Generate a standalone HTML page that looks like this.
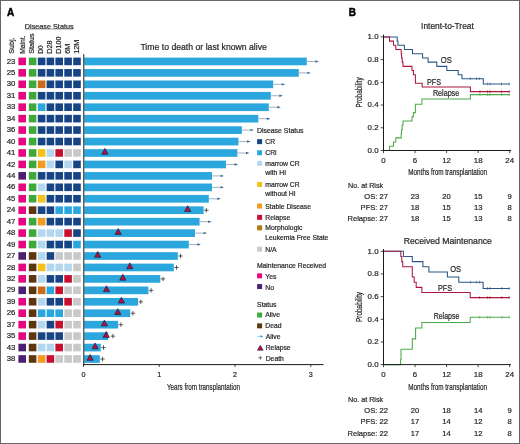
<!DOCTYPE html>
<html><head><meta charset="utf-8"><style>
html,body{margin:0;padding:0;background:#fff;}
#wrap{position:relative;width:520px;height:444px;overflow:hidden;}
svg{position:absolute;left:0;top:0;will-change:transform;}
</style></head><body><div id="wrap">
<svg width="520" height="444" viewBox="0 0 520 444" font-family='"Liberation Sans", sans-serif'>
<rect x="0" y="0" width="520" height="444" fill="#fff"/>
<text x="6.9" y="16.0" font-size="10" text-anchor="start" fill="#000" font-weight="bold" stroke="#000" stroke-width="0.45">A</text>
<text x="24.8" y="28.7" font-size="7.1" text-anchor="start" fill="#231f20" font-weight="normal" textLength="48.8" lengthAdjust="spacingAndGlyphs" stroke="#231f20" stroke-width="0.2">Disease Status</text>
<line x1="25" y1="29.1" x2="74" y2="29.1" stroke="#777" stroke-width="0.6"/>
<text transform="translate(13.5,53.8) rotate(-90)" font-size="7.2" fill="#231f20" stroke="#231f20" stroke-width="0.2">Subj.</text>
<text transform="translate(24.8,53.8) rotate(-90)" font-size="7.2" fill="#231f20" stroke="#231f20" stroke-width="0.2" textLength="18.4" lengthAdjust="spacingAndGlyphs">Maint.</text>
<text transform="translate(34.3,53.8) rotate(-90)" font-size="7.2" fill="#231f20" stroke="#231f20" stroke-width="0.2">Status</text>
<text transform="translate(43.0,53.8) rotate(-90)" font-size="7.2" fill="#231f20" stroke="#231f20" stroke-width="0.2" textLength="8.4" lengthAdjust="spacingAndGlyphs">D0</text>
<text transform="translate(51.6,53.8) rotate(-90)" font-size="7.2" fill="#231f20" stroke="#231f20" stroke-width="0.2">D28</text>
<text transform="translate(61.2,53.8) rotate(-90)" font-size="7.2" fill="#231f20" stroke="#231f20" stroke-width="0.2">D100</text>
<text transform="translate(70.3,53.8) rotate(-90)" font-size="7.2" fill="#231f20" stroke="#231f20" stroke-width="0.2">6M</text>
<text transform="translate(79.3,53.8) rotate(-90)" font-size="7.2" fill="#231f20" stroke="#231f20" stroke-width="0.2">12M</text>
<text x="11.1" y="63.5" font-size="7.8" text-anchor="middle" fill="#231f20" font-weight="normal" stroke="#231f20" stroke-width="0.2">23</text>
<rect x="18.4" y="57.60" width="7.6" height="7.6" fill="#e6067f"/>
<rect x="28.8" y="57.60" width="7.6" height="7.6" fill="#3fa83a"/>
<rect x="37.8" y="57.60" width="7.6" height="7.6" fill="#174484"/>
<rect x="46.6" y="57.60" width="7.6" height="7.6" fill="#174484"/>
<rect x="55.4" y="57.60" width="7.6" height="7.6" fill="#174484"/>
<rect x="64.3" y="57.60" width="7.6" height="7.6" fill="#174484"/>
<rect x="73.2" y="57.60" width="7.6" height="7.6" fill="#174484"/>
<rect x="84.2" y="57.60" width="222.60" height="7.7" fill="#2ca7de"/>
<line x1="307.10" y1="61.45" x2="315.80" y2="61.45" stroke="#5a7a95" stroke-width="0.6"/>
<path d="M318.80,61.45 L315.40,60.25 L315.40,62.65 Z" fill="#36628c"/>
<text x="11.1" y="74.95" font-size="7.8" text-anchor="middle" fill="#231f20" font-weight="normal" stroke="#231f20" stroke-width="0.2">25</text>
<rect x="18.4" y="69.05" width="7.6" height="7.6" fill="#e6067f"/>
<rect x="28.8" y="69.05" width="7.6" height="7.6" fill="#3fa83a"/>
<rect x="37.8" y="69.05" width="7.6" height="7.6" fill="#174484"/>
<rect x="46.6" y="69.05" width="7.6" height="7.6" fill="#174484"/>
<rect x="55.4" y="69.05" width="7.6" height="7.6" fill="#174484"/>
<rect x="64.3" y="69.05" width="7.6" height="7.6" fill="#174484"/>
<rect x="73.2" y="69.05" width="7.6" height="7.6" fill="#174484"/>
<rect x="84.2" y="69.05" width="214.60" height="7.7" fill="#2ca7de"/>
<line x1="299.10" y1="72.89" x2="307.80" y2="72.89" stroke="#5a7a95" stroke-width="0.6"/>
<path d="M310.80,72.89 L307.40,71.69 L307.40,74.09 Z" fill="#36628c"/>
<text x="11.1" y="86.39" font-size="7.8" text-anchor="middle" fill="#231f20" font-weight="normal" stroke="#231f20" stroke-width="0.2">30</text>
<rect x="18.4" y="80.49" width="7.6" height="7.6" fill="#e6067f"/>
<rect x="28.8" y="80.49" width="7.6" height="7.6" fill="#3fa83a"/>
<rect x="37.8" y="80.49" width="7.6" height="7.6" fill="#c96b1a"/>
<rect x="46.6" y="80.49" width="7.6" height="7.6" fill="#174484"/>
<rect x="55.4" y="80.49" width="7.6" height="7.6" fill="#174484"/>
<rect x="64.3" y="80.49" width="7.6" height="7.6" fill="#174484"/>
<rect x="73.2" y="80.49" width="7.6" height="7.6" fill="#174484"/>
<rect x="84.2" y="80.49" width="189.00" height="7.7" fill="#2ca7de"/>
<line x1="273.50" y1="84.34" x2="282.20" y2="84.34" stroke="#5a7a95" stroke-width="0.6"/>
<path d="M285.20,84.34 L281.80,83.14 L281.80,85.54 Z" fill="#36628c"/>
<text x="11.1" y="97.84" font-size="7.8" text-anchor="middle" fill="#231f20" font-weight="normal" stroke="#231f20" stroke-width="0.2">31</text>
<rect x="18.4" y="91.94" width="7.6" height="7.6" fill="#e6067f"/>
<rect x="28.8" y="91.94" width="7.6" height="7.6" fill="#3fa83a"/>
<rect x="37.8" y="91.94" width="7.6" height="7.6" fill="#174484"/>
<rect x="46.6" y="91.94" width="7.6" height="7.6" fill="#174484"/>
<rect x="55.4" y="91.94" width="7.6" height="7.6" fill="#174484"/>
<rect x="64.3" y="91.94" width="7.6" height="7.6" fill="#174484"/>
<rect x="73.2" y="91.94" width="7.6" height="7.6" fill="#174484"/>
<rect x="84.2" y="91.94" width="186.60" height="7.7" fill="#2ca7de"/>
<line x1="271.10" y1="95.78" x2="279.80" y2="95.78" stroke="#5a7a95" stroke-width="0.6"/>
<path d="M282.80,95.78 L279.40,94.58 L279.40,96.98 Z" fill="#36628c"/>
<text x="11.1" y="109.28" font-size="7.8" text-anchor="middle" fill="#231f20" font-weight="normal" stroke="#231f20" stroke-width="0.2">33</text>
<rect x="18.4" y="103.38" width="7.6" height="7.6" fill="#e6067f"/>
<rect x="28.8" y="103.38" width="7.6" height="7.6" fill="#3fa83a"/>
<rect x="37.8" y="103.38" width="7.6" height="7.6" fill="#2aa7df"/>
<rect x="46.6" y="103.38" width="7.6" height="7.6" fill="#174484"/>
<rect x="55.4" y="103.38" width="7.6" height="7.6" fill="#174484"/>
<rect x="64.3" y="103.38" width="7.6" height="7.6" fill="#174484"/>
<rect x="73.2" y="103.38" width="7.6" height="7.6" fill="#174484"/>
<rect x="84.2" y="103.38" width="184.60" height="7.7" fill="#2ca7de"/>
<line x1="269.10" y1="107.23" x2="277.80" y2="107.23" stroke="#5a7a95" stroke-width="0.6"/>
<path d="M280.80,107.23 L277.40,106.03 L277.40,108.43 Z" fill="#36628c"/>
<text x="11.1" y="120.73" font-size="7.8" text-anchor="middle" fill="#231f20" font-weight="normal" stroke="#231f20" stroke-width="0.2">34</text>
<rect x="18.4" y="114.83" width="7.6" height="7.6" fill="#e6067f"/>
<rect x="28.8" y="114.83" width="7.6" height="7.6" fill="#3fa83a"/>
<rect x="37.8" y="114.83" width="7.6" height="7.6" fill="#174484"/>
<rect x="46.6" y="114.83" width="7.6" height="7.6" fill="#174484"/>
<rect x="55.4" y="114.83" width="7.6" height="7.6" fill="#174484"/>
<rect x="64.3" y="114.83" width="7.6" height="7.6" fill="#174484"/>
<rect x="73.2" y="114.83" width="7.6" height="7.6" fill="#174484"/>
<rect x="84.2" y="114.83" width="174.10" height="7.7" fill="#2ca7de"/>
<line x1="258.60" y1="118.67" x2="267.30" y2="118.67" stroke="#5a7a95" stroke-width="0.6"/>
<path d="M270.30,118.67 L266.90,117.47 L266.90,119.88 Z" fill="#36628c"/>
<text x="11.1" y="132.17" font-size="7.8" text-anchor="middle" fill="#231f20" font-weight="normal" stroke="#231f20" stroke-width="0.2">36</text>
<rect x="18.4" y="126.27" width="7.6" height="7.6" fill="#e6067f"/>
<rect x="28.8" y="126.27" width="7.6" height="7.6" fill="#3fa83a"/>
<rect x="37.8" y="126.27" width="7.6" height="7.6" fill="#174484"/>
<rect x="46.6" y="126.27" width="7.6" height="7.6" fill="#174484"/>
<rect x="55.4" y="126.27" width="7.6" height="7.6" fill="#174484"/>
<rect x="64.3" y="126.27" width="7.6" height="7.6" fill="#174484"/>
<rect x="73.2" y="126.27" width="7.6" height="7.6" fill="#174484"/>
<rect x="84.2" y="126.27" width="157.70" height="7.7" fill="#2ca7de"/>
<line x1="242.20" y1="130.12" x2="250.90" y2="130.12" stroke="#5a7a95" stroke-width="0.6"/>
<path d="M253.90,130.12 L250.50,128.92 L250.50,131.32 Z" fill="#36628c"/>
<text x="11.1" y="143.62" font-size="7.8" text-anchor="middle" fill="#231f20" font-weight="normal" stroke="#231f20" stroke-width="0.2">40</text>
<rect x="18.4" y="137.72" width="7.6" height="7.6" fill="#e6067f"/>
<rect x="28.8" y="137.72" width="7.6" height="7.6" fill="#3fa83a"/>
<rect x="37.8" y="137.72" width="7.6" height="7.6" fill="#174484"/>
<rect x="46.6" y="137.72" width="7.6" height="7.6" fill="#174484"/>
<rect x="55.4" y="137.72" width="7.6" height="7.6" fill="#174484"/>
<rect x="64.3" y="137.72" width="7.6" height="7.6" fill="#174484"/>
<rect x="73.2" y="137.72" width="7.6" height="7.6" fill="#174484"/>
<rect x="84.2" y="137.72" width="154.30" height="7.7" fill="#2ca7de"/>
<line x1="238.80" y1="141.56" x2="247.50" y2="141.56" stroke="#5a7a95" stroke-width="0.6"/>
<path d="M250.50,141.56 L247.10,140.37 L247.10,142.76 Z" fill="#36628c"/>
<text x="11.1" y="155.06" font-size="7.8" text-anchor="middle" fill="#231f20" font-weight="normal" stroke="#231f20" stroke-width="0.2">41</text>
<rect x="18.4" y="149.16" width="7.6" height="7.6" fill="#e6067f"/>
<rect x="28.8" y="149.16" width="7.6" height="7.6" fill="#3fa83a"/>
<rect x="37.8" y="149.16" width="7.6" height="7.6" fill="#f4c21a"/>
<rect x="46.6" y="149.16" width="7.6" height="7.6" fill="#b4d7f0"/>
<rect x="55.4" y="149.16" width="7.6" height="7.6" fill="#c8102e"/>
<rect x="64.3" y="149.16" width="7.6" height="7.6" fill="#c9c9c9"/>
<rect x="73.2" y="149.16" width="7.6" height="7.6" fill="#c9c9c9"/>
<rect x="84.2" y="149.16" width="153.20" height="7.7" fill="#2ca7de"/>
<line x1="237.70" y1="153.01" x2="246.40" y2="153.01" stroke="#5a7a95" stroke-width="0.6"/>
<path d="M249.40,153.01 L246.00,151.81 L246.00,154.21 Z" fill="#36628c"/>
<path d="M104.90,148.46 L108.00,154.26 L101.80,154.26 Z" fill="#b51033" stroke="#222657" stroke-width="0.8" stroke-linejoin="miter"/>
<text x="11.1" y="166.5" font-size="7.8" text-anchor="middle" fill="#231f20" font-weight="normal" stroke="#231f20" stroke-width="0.2">42</text>
<rect x="18.4" y="160.60" width="7.6" height="7.6" fill="#e6067f"/>
<rect x="28.8" y="160.60" width="7.6" height="7.6" fill="#3fa83a"/>
<rect x="37.8" y="160.60" width="7.6" height="7.6" fill="#f39b21"/>
<rect x="46.6" y="160.60" width="7.6" height="7.6" fill="#b4d7f0"/>
<rect x="55.4" y="160.60" width="7.6" height="7.6" fill="#174484"/>
<rect x="64.3" y="160.60" width="7.6" height="7.6" fill="#b4d7f0"/>
<rect x="73.2" y="160.60" width="7.6" height="7.6" fill="#174484"/>
<rect x="84.2" y="160.60" width="141.80" height="7.7" fill="#2ca7de"/>
<line x1="226.30" y1="164.45" x2="235.00" y2="164.45" stroke="#5a7a95" stroke-width="0.6"/>
<path d="M238.00,164.45 L234.60,163.25 L234.60,165.65 Z" fill="#36628c"/>
<text x="11.1" y="177.95" font-size="7.8" text-anchor="middle" fill="#231f20" font-weight="normal" stroke="#231f20" stroke-width="0.2">44</text>
<rect x="18.4" y="172.05" width="7.6" height="7.6" fill="#4d1f73"/>
<rect x="28.8" y="172.05" width="7.6" height="7.6" fill="#3fa83a"/>
<rect x="37.8" y="172.05" width="7.6" height="7.6" fill="#174484"/>
<rect x="46.6" y="172.05" width="7.6" height="7.6" fill="#174484"/>
<rect x="55.4" y="172.05" width="7.6" height="7.6" fill="#174484"/>
<rect x="64.3" y="172.05" width="7.6" height="7.6" fill="#174484"/>
<rect x="73.2" y="172.05" width="7.6" height="7.6" fill="#174484"/>
<rect x="84.2" y="172.05" width="127.80" height="7.7" fill="#2ca7de"/>
<line x1="212.30" y1="175.90" x2="221.00" y2="175.90" stroke="#5a7a95" stroke-width="0.6"/>
<path d="M224.00,175.90 L220.60,174.70 L220.60,177.10 Z" fill="#36628c"/>
<text x="11.1" y="189.4" font-size="7.8" text-anchor="middle" fill="#231f20" font-weight="normal" stroke="#231f20" stroke-width="0.2">46</text>
<rect x="18.4" y="183.50" width="7.6" height="7.6" fill="#e6067f"/>
<rect x="28.8" y="183.50" width="7.6" height="7.6" fill="#3fa83a"/>
<rect x="37.8" y="183.50" width="7.6" height="7.6" fill="#b4d7f0"/>
<rect x="46.6" y="183.50" width="7.6" height="7.6" fill="#174484"/>
<rect x="55.4" y="183.50" width="7.6" height="7.6" fill="#174484"/>
<rect x="64.3" y="183.50" width="7.6" height="7.6" fill="#174484"/>
<rect x="73.2" y="183.50" width="7.6" height="7.6" fill="#174484"/>
<rect x="84.2" y="183.50" width="127.80" height="7.7" fill="#2ca7de"/>
<line x1="212.30" y1="187.34" x2="221.00" y2="187.34" stroke="#5a7a95" stroke-width="0.6"/>
<path d="M224.00,187.34 L220.60,186.15 L220.60,188.54 Z" fill="#36628c"/>
<text x="11.1" y="200.84" font-size="7.8" text-anchor="middle" fill="#231f20" font-weight="normal" stroke="#231f20" stroke-width="0.2">45</text>
<rect x="18.4" y="194.94" width="7.6" height="7.6" fill="#e6067f"/>
<rect x="28.8" y="194.94" width="7.6" height="7.6" fill="#3fa83a"/>
<rect x="37.8" y="194.94" width="7.6" height="7.6" fill="#f4c21a"/>
<rect x="46.6" y="194.94" width="7.6" height="7.6" fill="#174484"/>
<rect x="55.4" y="194.94" width="7.6" height="7.6" fill="#174484"/>
<rect x="64.3" y="194.94" width="7.6" height="7.6" fill="#174484"/>
<rect x="73.2" y="194.94" width="7.6" height="7.6" fill="#174484"/>
<rect x="84.2" y="194.94" width="124.60" height="7.7" fill="#2ca7de"/>
<line x1="209.10" y1="198.79" x2="217.80" y2="198.79" stroke="#5a7a95" stroke-width="0.6"/>
<path d="M220.80,198.79 L217.40,197.59 L217.40,199.99 Z" fill="#36628c"/>
<text x="11.1" y="212.28" font-size="7.8" text-anchor="middle" fill="#231f20" font-weight="normal" stroke="#231f20" stroke-width="0.2">24</text>
<rect x="18.4" y="206.38" width="7.6" height="7.6" fill="#e6067f"/>
<rect x="28.8" y="206.38" width="7.6" height="7.6" fill="#5e3511"/>
<rect x="37.8" y="206.38" width="7.6" height="7.6" fill="#174484"/>
<rect x="46.6" y="206.38" width="7.6" height="7.6" fill="#174484"/>
<rect x="55.4" y="206.38" width="7.6" height="7.6" fill="#2aa7df"/>
<rect x="64.3" y="206.38" width="7.6" height="7.6" fill="#2aa7df"/>
<rect x="73.2" y="206.38" width="7.6" height="7.6" fill="#2aa7df"/>
<rect x="84.2" y="206.38" width="119.40" height="7.7" fill="#2ca7de"/>
<path d="M204.10,210.23 H208.50 M206.30,208.03 V212.43" stroke="#333" stroke-width="0.8"/>
<path d="M187.70,205.69 L190.80,211.49 L184.60,211.49 Z" fill="#b51033" stroke="#222657" stroke-width="0.8" stroke-linejoin="miter"/>
<text x="11.1" y="223.73" font-size="7.8" text-anchor="middle" fill="#231f20" font-weight="normal" stroke="#231f20" stroke-width="0.2">47</text>
<rect x="18.4" y="217.83" width="7.6" height="7.6" fill="#e6067f"/>
<rect x="28.8" y="217.83" width="7.6" height="7.6" fill="#3fa83a"/>
<rect x="37.8" y="217.83" width="7.6" height="7.6" fill="#f39b21"/>
<rect x="46.6" y="217.83" width="7.6" height="7.6" fill="#174484"/>
<rect x="55.4" y="217.83" width="7.6" height="7.6" fill="#174484"/>
<rect x="64.3" y="217.83" width="7.6" height="7.6" fill="#174484"/>
<rect x="73.2" y="217.83" width="7.6" height="7.6" fill="#174484"/>
<rect x="84.2" y="217.83" width="115.40" height="7.7" fill="#2ca7de"/>
<line x1="199.90" y1="221.68" x2="208.60" y2="221.68" stroke="#5a7a95" stroke-width="0.6"/>
<path d="M211.60,221.68 L208.20,220.48 L208.20,222.88 Z" fill="#36628c"/>
<text x="11.1" y="235.18" font-size="7.8" text-anchor="middle" fill="#231f20" font-weight="normal" stroke="#231f20" stroke-width="0.2">48</text>
<rect x="18.4" y="229.28" width="7.6" height="7.6" fill="#e6067f"/>
<rect x="28.8" y="229.28" width="7.6" height="7.6" fill="#3fa83a"/>
<rect x="37.8" y="229.28" width="7.6" height="7.6" fill="#b4d7f0"/>
<rect x="46.6" y="229.28" width="7.6" height="7.6" fill="#b4d7f0"/>
<rect x="55.4" y="229.28" width="7.6" height="7.6" fill="#b4d7f0"/>
<rect x="64.3" y="229.28" width="7.6" height="7.6" fill="#c8102e"/>
<rect x="73.2" y="229.28" width="7.6" height="7.6" fill="#174484"/>
<rect x="84.2" y="229.28" width="110.80" height="7.7" fill="#2ca7de"/>
<line x1="195.30" y1="233.12" x2="204.00" y2="233.12" stroke="#5a7a95" stroke-width="0.6"/>
<path d="M207.00,233.12 L203.60,231.93 L203.60,234.32 Z" fill="#36628c"/>
<path d="M118.20,228.58 L121.30,234.38 L115.10,234.38 Z" fill="#b51033" stroke="#222657" stroke-width="0.8" stroke-linejoin="miter"/>
<text x="11.1" y="246.62" font-size="7.8" text-anchor="middle" fill="#231f20" font-weight="normal" stroke="#231f20" stroke-width="0.2">49</text>
<rect x="18.4" y="240.72" width="7.6" height="7.6" fill="#e6067f"/>
<rect x="28.8" y="240.72" width="7.6" height="7.6" fill="#3fa83a"/>
<rect x="37.8" y="240.72" width="7.6" height="7.6" fill="#b4d7f0"/>
<rect x="46.6" y="240.72" width="7.6" height="7.6" fill="#174484"/>
<rect x="55.4" y="240.72" width="7.6" height="7.6" fill="#174484"/>
<rect x="64.3" y="240.72" width="7.6" height="7.6" fill="#174484"/>
<rect x="73.2" y="240.72" width="7.6" height="7.6" fill="#2aa7df"/>
<rect x="84.2" y="240.72" width="104.60" height="7.7" fill="#2ca7de"/>
<line x1="189.10" y1="244.57" x2="197.80" y2="244.57" stroke="#5a7a95" stroke-width="0.6"/>
<path d="M200.80,244.57 L197.40,243.37 L197.40,245.77 Z" fill="#36628c"/>
<text x="11.1" y="258.06" font-size="7.8" text-anchor="middle" fill="#231f20" font-weight="normal" stroke="#231f20" stroke-width="0.2">27</text>
<rect x="18.4" y="252.16" width="7.6" height="7.6" fill="#4d1f73"/>
<rect x="28.8" y="252.16" width="7.6" height="7.6" fill="#5e3511"/>
<rect x="37.8" y="252.16" width="7.6" height="7.6" fill="#b4d7f0"/>
<rect x="46.6" y="252.16" width="7.6" height="7.6" fill="#174484"/>
<rect x="55.4" y="252.16" width="7.6" height="7.6" fill="#c9c9c9"/>
<rect x="64.3" y="252.16" width="7.6" height="7.6" fill="#c9c9c9"/>
<rect x="73.2" y="252.16" width="7.6" height="7.6" fill="#c9c9c9"/>
<rect x="84.2" y="252.16" width="93.60" height="7.7" fill="#2ca7de"/>
<path d="M178.30,256.01 H182.70 M180.50,253.81 V258.21" stroke="#333" stroke-width="0.8"/>
<path d="M97.70,251.47 L100.80,257.26 L94.60,257.26 Z" fill="#b51033" stroke="#222657" stroke-width="0.8" stroke-linejoin="miter"/>
<text x="11.1" y="269.51" font-size="7.8" text-anchor="middle" fill="#231f20" font-weight="normal" stroke="#231f20" stroke-width="0.2">28</text>
<rect x="18.4" y="263.61" width="7.6" height="7.6" fill="#e6067f"/>
<rect x="28.8" y="263.61" width="7.6" height="7.6" fill="#5e3511"/>
<rect x="37.8" y="263.61" width="7.6" height="7.6" fill="#f4c21a"/>
<rect x="46.6" y="263.61" width="7.6" height="7.6" fill="#b4d7f0"/>
<rect x="55.4" y="263.61" width="7.6" height="7.6" fill="#b4d7f0"/>
<rect x="64.3" y="263.61" width="7.6" height="7.6" fill="#b4d7f0"/>
<rect x="73.2" y="263.61" width="7.6" height="7.6" fill="#c9c9c9"/>
<rect x="84.2" y="263.61" width="89.60" height="7.7" fill="#2ca7de"/>
<path d="M174.30,267.46 H178.70 M176.50,265.26 V269.66" stroke="#333" stroke-width="0.8"/>
<path d="M129.80,262.91 L132.90,268.71 L126.70,268.71 Z" fill="#b51033" stroke="#222657" stroke-width="0.8" stroke-linejoin="miter"/>
<text x="11.1" y="280.95" font-size="7.8" text-anchor="middle" fill="#231f20" font-weight="normal" stroke="#231f20" stroke-width="0.2">32</text>
<rect x="18.4" y="275.06" width="7.6" height="7.6" fill="#e6067f"/>
<rect x="28.8" y="275.06" width="7.6" height="7.6" fill="#5e3511"/>
<rect x="37.8" y="275.06" width="7.6" height="7.6" fill="#b4d7f0"/>
<rect x="46.6" y="275.06" width="7.6" height="7.6" fill="#174484"/>
<rect x="55.4" y="275.06" width="7.6" height="7.6" fill="#174484"/>
<rect x="64.3" y="275.06" width="7.6" height="7.6" fill="#c8102e"/>
<rect x="73.2" y="275.06" width="7.6" height="7.6" fill="#c9c9c9"/>
<rect x="84.2" y="275.06" width="76.10" height="7.7" fill="#2ca7de"/>
<path d="M160.80,278.91 H165.20 M163.00,276.71 V281.11" stroke="#333" stroke-width="0.8"/>
<path d="M122.80,274.36 L125.90,280.16 L119.70,280.16 Z" fill="#b51033" stroke="#222657" stroke-width="0.8" stroke-linejoin="miter"/>
<text x="11.1" y="292.4" font-size="7.8" text-anchor="middle" fill="#231f20" font-weight="normal" stroke="#231f20" stroke-width="0.2">29</text>
<rect x="18.4" y="286.50" width="7.6" height="7.6" fill="#4d1f73"/>
<rect x="28.8" y="286.50" width="7.6" height="7.6" fill="#5e3511"/>
<rect x="37.8" y="286.50" width="7.6" height="7.6" fill="#c96b1a"/>
<rect x="46.6" y="286.50" width="7.6" height="7.6" fill="#2aa7df"/>
<rect x="55.4" y="286.50" width="7.6" height="7.6" fill="#c8102e"/>
<rect x="64.3" y="286.50" width="7.6" height="7.6" fill="#c9c9c9"/>
<rect x="73.2" y="286.50" width="7.6" height="7.6" fill="#c9c9c9"/>
<rect x="84.2" y="286.50" width="64.20" height="7.7" fill="#2ca7de"/>
<path d="M148.90,290.35 H153.30 M151.10,288.15 V292.55" stroke="#333" stroke-width="0.8"/>
<path d="M106.50,285.80 L109.60,291.60 L103.40,291.60 Z" fill="#b51033" stroke="#222657" stroke-width="0.8" stroke-linejoin="miter"/>
<text x="11.1" y="303.84" font-size="7.8" text-anchor="middle" fill="#231f20" font-weight="normal" stroke="#231f20" stroke-width="0.2">39</text>
<rect x="18.4" y="297.94" width="7.6" height="7.6" fill="#e6067f"/>
<rect x="28.8" y="297.94" width="7.6" height="7.6" fill="#5e3511"/>
<rect x="37.8" y="297.94" width="7.6" height="7.6" fill="#b4d7f0"/>
<rect x="46.6" y="297.94" width="7.6" height="7.6" fill="#174484"/>
<rect x="55.4" y="297.94" width="7.6" height="7.6" fill="#174484"/>
<rect x="64.3" y="297.94" width="7.6" height="7.6" fill="#c8102e"/>
<rect x="73.2" y="297.94" width="7.6" height="7.6" fill="#c9c9c9"/>
<rect x="84.2" y="297.94" width="53.90" height="7.7" fill="#2ca7de"/>
<path d="M138.60,301.80 H143.00 M140.80,299.60 V304.00" stroke="#333" stroke-width="0.8"/>
<path d="M121.40,297.25 L124.50,303.05 L118.30,303.05 Z" fill="#b51033" stroke="#222657" stroke-width="0.8" stroke-linejoin="miter"/>
<text x="11.1" y="315.29" font-size="7.8" text-anchor="middle" fill="#231f20" font-weight="normal" stroke="#231f20" stroke-width="0.2">26</text>
<rect x="18.4" y="309.39" width="7.6" height="7.6" fill="#e6067f"/>
<rect x="28.8" y="309.39" width="7.6" height="7.6" fill="#5e3511"/>
<rect x="37.8" y="309.39" width="7.6" height="7.6" fill="#2aa7df"/>
<rect x="46.6" y="309.39" width="7.6" height="7.6" fill="#2aa7df"/>
<rect x="55.4" y="309.39" width="7.6" height="7.6" fill="#2aa7df"/>
<rect x="64.3" y="309.39" width="7.6" height="7.6" fill="#c9c9c9"/>
<rect x="73.2" y="309.39" width="7.6" height="7.6" fill="#c9c9c9"/>
<rect x="84.2" y="309.39" width="46.00" height="7.7" fill="#2ca7de"/>
<path d="M130.70,313.24 H135.10 M132.90,311.04 V315.44" stroke="#333" stroke-width="0.8"/>
<path d="M117.80,308.69 L120.90,314.49 L114.70,314.49 Z" fill="#b51033" stroke="#222657" stroke-width="0.8" stroke-linejoin="miter"/>
<text x="11.1" y="326.74" font-size="7.8" text-anchor="middle" fill="#231f20" font-weight="normal" stroke="#231f20" stroke-width="0.2">37</text>
<rect x="18.4" y="320.84" width="7.6" height="7.6" fill="#e6067f"/>
<rect x="28.8" y="320.84" width="7.6" height="7.6" fill="#5e3511"/>
<rect x="37.8" y="320.84" width="7.6" height="7.6" fill="#b4d7f0"/>
<rect x="46.6" y="320.84" width="7.6" height="7.6" fill="#174484"/>
<rect x="55.4" y="320.84" width="7.6" height="7.6" fill="#c8102e"/>
<rect x="64.3" y="320.84" width="7.6" height="7.6" fill="#c9c9c9"/>
<rect x="73.2" y="320.84" width="7.6" height="7.6" fill="#c9c9c9"/>
<rect x="84.2" y="320.84" width="34.00" height="7.7" fill="#2ca7de"/>
<path d="M118.70,324.69 H123.10 M120.90,322.49 V326.89" stroke="#333" stroke-width="0.8"/>
<path d="M104.40,320.14 L107.50,325.94 L101.30,325.94 Z" fill="#b51033" stroke="#222657" stroke-width="0.8" stroke-linejoin="miter"/>
<text x="11.1" y="338.18" font-size="7.8" text-anchor="middle" fill="#231f20" font-weight="normal" stroke="#231f20" stroke-width="0.2">35</text>
<rect x="18.4" y="332.28" width="7.6" height="7.6" fill="#e6067f"/>
<rect x="28.8" y="332.28" width="7.6" height="7.6" fill="#5e3511"/>
<rect x="37.8" y="332.28" width="7.6" height="7.6" fill="#174484"/>
<rect x="46.6" y="332.28" width="7.6" height="7.6" fill="#174484"/>
<rect x="55.4" y="332.28" width="7.6" height="7.6" fill="#174484"/>
<rect x="64.3" y="332.28" width="7.6" height="7.6" fill="#c9c9c9"/>
<rect x="73.2" y="332.28" width="7.6" height="7.6" fill="#c9c9c9"/>
<rect x="84.2" y="332.28" width="23.90" height="7.7" fill="#2ca7de"/>
<path d="M110.70,336.13 H115.10 M112.90,333.93 V338.33" stroke="#333" stroke-width="0.8"/>
<path d="M106.20,331.58 L109.30,337.38 L103.10,337.38 Z" fill="#b51033" stroke="#222657" stroke-width="0.8" stroke-linejoin="miter"/>
<text x="11.1" y="349.62" font-size="7.8" text-anchor="middle" fill="#231f20" font-weight="normal" stroke="#231f20" stroke-width="0.2">43</text>
<rect x="18.4" y="343.73" width="7.6" height="7.6" fill="#4d1f73"/>
<rect x="28.8" y="343.73" width="7.6" height="7.6" fill="#5e3511"/>
<rect x="37.8" y="343.73" width="7.6" height="7.6" fill="#b4d7f0"/>
<rect x="46.6" y="343.73" width="7.6" height="7.6" fill="#b4d7f0"/>
<rect x="55.4" y="343.73" width="7.6" height="7.6" fill="#c8102e"/>
<rect x="64.3" y="343.73" width="7.6" height="7.6" fill="#c9c9c9"/>
<rect x="73.2" y="343.73" width="7.6" height="7.6" fill="#c9c9c9"/>
<rect x="84.2" y="343.73" width="16.60" height="7.7" fill="#2ca7de"/>
<path d="M101.30,347.58 H105.70 M103.50,345.38 V349.78" stroke="#333" stroke-width="0.8"/>
<path d="M95.10,343.03 L98.20,348.83 L92.00,348.83 Z" fill="#b51033" stroke="#222657" stroke-width="0.8" stroke-linejoin="miter"/>
<text x="11.1" y="361.07" font-size="7.8" text-anchor="middle" fill="#231f20" font-weight="normal" stroke="#231f20" stroke-width="0.2">38</text>
<rect x="18.4" y="355.17" width="7.6" height="7.6" fill="#4d1f73"/>
<rect x="28.8" y="355.17" width="7.6" height="7.6" fill="#5e3511"/>
<rect x="37.8" y="355.17" width="7.6" height="7.6" fill="#f39b21"/>
<rect x="46.6" y="355.17" width="7.6" height="7.6" fill="#c8102e"/>
<rect x="55.4" y="355.17" width="7.6" height="7.6" fill="#c9c9c9"/>
<rect x="64.3" y="355.17" width="7.6" height="7.6" fill="#c9c9c9"/>
<rect x="73.2" y="355.17" width="7.6" height="7.6" fill="#c9c9c9"/>
<rect x="84.2" y="355.17" width="15.60" height="7.7" fill="#2ca7de"/>
<path d="M100.30,359.02 H104.70 M102.50,356.82 V361.22" stroke="#333" stroke-width="0.8"/>
<path d="M90.10,354.47 L93.20,360.27 L87.00,360.27 Z" fill="#b51033" stroke="#222657" stroke-width="0.8" stroke-linejoin="miter"/>
<line x1="83.8" y1="54.2" x2="83.8" y2="365" stroke="#1a1a1a" stroke-width="1"/>
<line x1="83.1" y1="364.6" x2="323.5" y2="364.6" stroke="#1a1a1a" stroke-width="1"/>
<line x1="83.50" y1="364" x2="83.50" y2="367" stroke="#1a1a1a" stroke-width="0.8"/>
<text x="83.5" y="377.2" font-size="7.2" text-anchor="middle" fill="#231f20" font-weight="normal" stroke="#231f20" stroke-width="0.2">0</text>
<line x1="159.27" y1="364" x2="159.27" y2="367" stroke="#1a1a1a" stroke-width="0.8"/>
<text x="159.27" y="377.2" font-size="7.2" text-anchor="middle" fill="#231f20" font-weight="normal" stroke="#231f20" stroke-width="0.2">1</text>
<line x1="235.04" y1="364" x2="235.04" y2="367" stroke="#1a1a1a" stroke-width="0.8"/>
<text x="235.04" y="377.2" font-size="7.2" text-anchor="middle" fill="#231f20" font-weight="normal" stroke="#231f20" stroke-width="0.2">2</text>
<line x1="310.81" y1="364" x2="310.81" y2="367" stroke="#1a1a1a" stroke-width="0.8"/>
<text x="310.81" y="377.2" font-size="7.2" text-anchor="middle" fill="#231f20" font-weight="normal" stroke="#231f20" stroke-width="0.2">3</text>
<text x="166.9" y="390.0" font-size="9.0" text-anchor="start" fill="#231f20" font-weight="normal" textLength="73" lengthAdjust="spacingAndGlyphs" stroke="#231f20" stroke-width="0.2">Years from transplantation</text>
<text x="140.4" y="49.8" font-size="8.7" text-anchor="start" fill="#231f20" font-weight="normal" textLength="126.5" lengthAdjust="spacingAndGlyphs" stroke="#231f20" stroke-width="0.2">Time to death or last known alive</text>
<text x="256.9" y="133.1" font-size="6.8" text-anchor="start" fill="#231f20" font-weight="normal" textLength="46.6" lengthAdjust="spacingAndGlyphs" stroke="#231f20" stroke-width="0.2">Disease Status</text>
<rect x="257.09999999999997" y="139.15" width="5.0" height="5.0" fill="#174484"/>
<text x="265.3" y="143.9" font-size="6.8" text-anchor="start" fill="#231f20" font-weight="normal" stroke="#231f20" stroke-width="0.2">CR</text>
<rect x="257.09999999999997" y="150.25" width="5.0" height="5.0" fill="#2aa7df"/>
<text x="265.3" y="155.0" font-size="6.8" text-anchor="start" fill="#231f20" font-weight="normal" stroke="#231f20" stroke-width="0.2">CRi</text>
<rect x="257.09999999999997" y="160.85" width="5.0" height="5.0" fill="#b4d7f0"/>
<text x="265.3" y="165.8" font-size="6.8" text-anchor="start" fill="#231f20" font-weight="normal" stroke="#231f20" stroke-width="0.2">marrow CR</text>
<text x="265.3" y="175.3" font-size="6.8" text-anchor="start" fill="#231f20" font-weight="normal" stroke="#231f20" stroke-width="0.2">with HI</text>
<rect x="257.09999999999997" y="181.95" width="5.0" height="5.0" fill="#f4c21a"/>
<text x="265.3" y="187.0" font-size="6.8" text-anchor="start" fill="#231f20" font-weight="normal" stroke="#231f20" stroke-width="0.2">marrow CR</text>
<text x="265.3" y="196.4" font-size="6.8" text-anchor="start" fill="#231f20" font-weight="normal" stroke="#231f20" stroke-width="0.2">without HI</text>
<rect x="257.09999999999997" y="203.54999999999998" width="5.0" height="5.0" fill="#f39b21"/>
<text x="265.3" y="208.7" font-size="6.8" text-anchor="start" fill="#231f20" font-weight="normal" stroke="#231f20" stroke-width="0.2">Stable Disease</text>
<rect x="257.09999999999997" y="214.85" width="5.0" height="5.0" fill="#c8102e"/>
<text x="265.3" y="220.0" font-size="6.8" text-anchor="start" fill="#231f20" font-weight="normal" stroke="#231f20" stroke-width="0.2">Relapse</text>
<rect x="257.09999999999997" y="225.35" width="5.0" height="5.0" fill="#b3780f"/>
<text x="265.3" y="230.2" font-size="6.8" text-anchor="start" fill="#231f20" font-weight="normal" stroke="#231f20" stroke-width="0.2">Morphologic</text>
<text x="265.3" y="239.8" font-size="6.8" text-anchor="start" fill="#231f20" font-weight="normal" stroke="#231f20" stroke-width="0.2">Leukemia Free State</text>
<rect x="257.09999999999997" y="246.65" width="5.0" height="5.0" fill="#c9c9c9"/>
<text x="265.3" y="251.8" font-size="6.8" text-anchor="start" fill="#231f20" font-weight="normal" stroke="#231f20" stroke-width="0.2">N/A</text>
<text x="256.9" y="267.9" font-size="6.8" text-anchor="start" fill="#231f20" font-weight="normal" textLength="69.2" lengthAdjust="spacingAndGlyphs" stroke="#231f20" stroke-width="0.2">Maintenance Received</text>
<rect x="257.09999999999997" y="273.35" width="5.0" height="5.0" fill="#e6067f"/>
<text x="265.3" y="278.8" font-size="6.8" text-anchor="start" fill="#231f20" font-weight="normal" stroke="#231f20" stroke-width="0.2">Yes</text>
<rect x="257.09999999999997" y="284.05" width="5.0" height="5.0" fill="#4d1f73"/>
<text x="265.3" y="289.9" font-size="6.8" text-anchor="start" fill="#231f20" font-weight="normal" stroke="#231f20" stroke-width="0.2">No</text>
<text x="257.1" y="306.7" font-size="6.8" text-anchor="start" fill="#231f20" font-weight="normal" stroke="#231f20" stroke-width="0.2">Status</text>
<rect x="257.09999999999997" y="312.55" width="5.0" height="5.0" fill="#3fa83a"/>
<text x="265.3" y="317.4" font-size="6.8" text-anchor="start" fill="#231f20" font-weight="normal" stroke="#231f20" stroke-width="0.2">Alive</text>
<rect x="257.09999999999997" y="323.35" width="5.0" height="5.0" fill="#5e3511"/>
<text x="265.3" y="328.3" font-size="6.8" text-anchor="start" fill="#231f20" font-weight="normal" stroke="#231f20" stroke-width="0.2">Dead</text>
<line x1="257.3" y1="336.4" x2="261" y2="336.4" stroke="#3aa6de" stroke-width="0.6"/>
<path d="M263.4,336.4 L260.5,335 L260.5,337.8 Z" fill="#3aa6de"/>
<text x="265.7" y="339.1" font-size="6.8" text-anchor="start" fill="#231f20" font-weight="normal" stroke="#231f20" stroke-width="0.2">Alive</text>
<path d="M260.3,345.2 L263.2,350.2 L257.4,350.2 Z" fill="#b51033" stroke="#222657" stroke-width="0.6"/>
<text x="265.7" y="350.3" font-size="6.8" text-anchor="start" fill="#231f20" font-weight="normal" stroke="#231f20" stroke-width="0.2">Relapse</text>
<path d="M258.4,357.8 H262.2 M260.3,355.9 V359.7" stroke="#231f20" stroke-width="0.6"/>
<text x="265.7" y="360.7" font-size="6.8" text-anchor="start" fill="#231f20" font-weight="normal" stroke="#231f20" stroke-width="0.2">Death</text>
<text x="348.7" y="15.9" font-size="10" text-anchor="start" fill="#000" font-weight="bold" stroke="#000" stroke-width="0.45">B</text>
<line x1="380.7" y1="150.50" x2="383.5" y2="150.50" stroke="#1a1a1a" stroke-width="0.8"/>
<text x="378.6" y="152.8" font-size="7.9" text-anchor="end" fill="#231f20" font-weight="normal" stroke="#231f20" stroke-width="0.2">0.0</text>
<line x1="380.7" y1="127.78" x2="383.5" y2="127.78" stroke="#1a1a1a" stroke-width="0.8"/>
<text x="378.6" y="130.08" font-size="7.9" text-anchor="end" fill="#231f20" font-weight="normal" stroke="#231f20" stroke-width="0.2">0.2</text>
<line x1="380.7" y1="105.06" x2="383.5" y2="105.06" stroke="#1a1a1a" stroke-width="0.8"/>
<text x="378.6" y="107.36" font-size="7.9" text-anchor="end" fill="#231f20" font-weight="normal" stroke="#231f20" stroke-width="0.2">0.4</text>
<line x1="380.7" y1="82.34" x2="383.5" y2="82.34" stroke="#1a1a1a" stroke-width="0.8"/>
<text x="378.6" y="84.64" font-size="7.9" text-anchor="end" fill="#231f20" font-weight="normal" stroke="#231f20" stroke-width="0.2">0.6</text>
<line x1="380.7" y1="59.62" x2="383.5" y2="59.62" stroke="#1a1a1a" stroke-width="0.8"/>
<text x="378.6" y="61.92" font-size="7.9" text-anchor="end" fill="#231f20" font-weight="normal" stroke="#231f20" stroke-width="0.2">0.8</text>
<line x1="380.7" y1="36.90" x2="383.5" y2="36.90" stroke="#1a1a1a" stroke-width="0.8"/>
<text x="378.6" y="39.2" font-size="7.9" text-anchor="end" fill="#231f20" font-weight="normal" stroke="#231f20" stroke-width="0.2">1.0</text>
<line x1="383.50" y1="150.5" x2="383.50" y2="153.1" stroke="#1a1a1a" stroke-width="0.8"/>
<text x="383.5" y="162.6" font-size="7.9" text-anchor="middle" fill="#231f20" font-weight="normal" stroke="#231f20" stroke-width="0.2">0</text>
<line x1="415.05" y1="150.5" x2="415.05" y2="153.1" stroke="#1a1a1a" stroke-width="0.8"/>
<text x="415.05" y="162.6" font-size="7.9" text-anchor="middle" fill="#231f20" font-weight="normal" stroke="#231f20" stroke-width="0.2">6</text>
<line x1="446.60" y1="150.5" x2="446.60" y2="153.1" stroke="#1a1a1a" stroke-width="0.8"/>
<text x="446.6" y="162.6" font-size="7.9" text-anchor="middle" fill="#231f20" font-weight="normal" stroke="#231f20" stroke-width="0.2">12</text>
<line x1="478.15" y1="150.5" x2="478.15" y2="153.1" stroke="#1a1a1a" stroke-width="0.8"/>
<text x="478.15" y="162.6" font-size="7.9" text-anchor="middle" fill="#231f20" font-weight="normal" stroke="#231f20" stroke-width="0.2">18</text>
<line x1="509.70" y1="150.5" x2="509.70" y2="153.1" stroke="#1a1a1a" stroke-width="0.8"/>
<text x="509.7" y="162.6" font-size="7.9" text-anchor="middle" fill="#231f20" font-weight="normal" stroke="#231f20" stroke-width="0.2">24</text>
<text x="421.1" y="29.4" font-size="8.6" text-anchor="start" fill="#231f20" font-weight="normal" textLength="52.7" lengthAdjust="spacingAndGlyphs" stroke="#231f20" stroke-width="0.2">Intent-to-Treat</text>
<text x="408.3" y="175.3" font-size="9.0" text-anchor="start" fill="#231f20" font-weight="normal" textLength="78.7" lengthAdjust="spacingAndGlyphs" stroke="#231f20" stroke-width="0.2">Months from transplantation</text>
<text transform="translate(361.5,107.40) rotate(-90)" font-size="8.5" fill="#231f20" stroke="#231f20" stroke-width="0.2" textLength="30.0" lengthAdjust="spacingAndGlyphs">Probability</text>
<path d="M383.5,36.90 H397.20 V41.11 H397.90 V45.31 H404.40 V49.52 H412.50 V53.73 H422.60 V57.94 H428.10 V62.14 H436.80 V66.35 H446.80 V70.56 H458.20 V74.77 H462.00 V78.70 H483.30 V83.90 H509.70" fill="none" stroke="#2a5788" stroke-width="1.05"/>
<path d="M383.5,150.50 H389.50 V146.29 H393.50 V142.09 H395.80 V137.88 H401.20 V133.67 H401.60 V129.46 H402.20 V125.26 H403.00 V121.05 H412.00 V116.84 H413.40 V112.63 H415.40 V104.22 H421.90 V99.00 H470.40 V94.60 H509.70" fill="none" stroke="#4aaa48" stroke-width="1.05"/>
<path d="M383.5,36.90 H389.50 V41.11 H393.50 V45.31 H395.80 V49.52 H401.20 V53.73 H401.60 V57.94 H402.20 V62.14 H403.00 V66.35 H412.00 V70.56 H413.40 V74.77 H415.40 V83.18 H422.20 V87.00 H470.40 V91.60 H509.70" fill="none" stroke="#ab163d" stroke-width="1.05"/>
<line x1="470.3" y1="77.30" x2="470.3" y2="80.10" stroke="#2a5788" stroke-width="0.6"/>
<line x1="476.5" y1="77.30" x2="476.5" y2="80.10" stroke="#2a5788" stroke-width="0.6"/>
<line x1="479.4" y1="77.30" x2="479.4" y2="80.10" stroke="#2a5788" stroke-width="0.6"/>
<line x1="487.6" y1="82.50" x2="487.6" y2="85.30" stroke="#2a5788" stroke-width="0.6"/>
<line x1="490.0" y1="82.50" x2="490.0" y2="85.30" stroke="#2a5788" stroke-width="0.6"/>
<line x1="501.5" y1="82.50" x2="501.5" y2="85.30" stroke="#2a5788" stroke-width="0.6"/>
<line x1="509.2" y1="82.50" x2="509.2" y2="85.30" stroke="#2a5788" stroke-width="0.6"/>
<line x1="479.9" y1="90.20" x2="479.9" y2="93.00" stroke="#ab163d" stroke-width="0.6"/>
<line x1="479.9" y1="93.20" x2="479.9" y2="96.00" stroke="#4aaa48" stroke-width="0.6"/>
<line x1="487.6" y1="90.20" x2="487.6" y2="93.00" stroke="#ab163d" stroke-width="0.6"/>
<line x1="487.6" y1="93.20" x2="487.6" y2="96.00" stroke="#4aaa48" stroke-width="0.6"/>
<line x1="490.0" y1="90.20" x2="490.0" y2="93.00" stroke="#ab163d" stroke-width="0.6"/>
<line x1="490.0" y1="93.20" x2="490.0" y2="96.00" stroke="#4aaa48" stroke-width="0.6"/>
<line x1="501.5" y1="90.20" x2="501.5" y2="93.00" stroke="#ab163d" stroke-width="0.6"/>
<line x1="501.5" y1="93.20" x2="501.5" y2="96.00" stroke="#4aaa48" stroke-width="0.6"/>
<line x1="509.2" y1="90.20" x2="509.2" y2="93.00" stroke="#ab163d" stroke-width="0.6"/>
<line x1="509.2" y1="93.20" x2="509.2" y2="96.00" stroke="#4aaa48" stroke-width="0.6"/>
<line x1="383.5" y1="34.6" x2="383.5" y2="151.0" stroke="#1a1a1a" stroke-width="1"/>
<line x1="383.0" y1="150.5" x2="511.0" y2="150.5" stroke="#1a1a1a" stroke-width="1"/>
<text x="440.8" y="62.6" font-size="8.6" text-anchor="start" fill="#231f20" font-weight="normal" textLength="11.0" lengthAdjust="spacingAndGlyphs" stroke="#231f20" stroke-width="0.2">OS</text>
<text x="427.0" y="84.5" font-size="8.6" text-anchor="start" fill="#231f20" font-weight="normal" textLength="14.0" lengthAdjust="spacingAndGlyphs" stroke="#231f20" stroke-width="0.2">PFS</text>
<text x="432.9" y="96.1" font-size="8.6" text-anchor="start" fill="#231f20" font-weight="normal" textLength="26.3" lengthAdjust="spacingAndGlyphs" stroke="#231f20" stroke-width="0.2">Relapse</text>
<text x="348.0" y="187.5" font-size="7.6" text-anchor="start" fill="#231f20" font-weight="normal" textLength="35.1" lengthAdjust="spacingAndGlyphs" stroke="#231f20" stroke-width="0.2">No. at Risk</text>
<text x="388.0" y="198.75" font-size="7.6" text-anchor="end" fill="#231f20" font-weight="normal" stroke="#231f20" stroke-width="0.2">OS: 27</text>
<text x="415.05" y="198.75" font-size="7.6" text-anchor="middle" fill="#231f20" font-weight="normal" stroke="#231f20" stroke-width="0.2">23</text>
<text x="446.6" y="198.75" font-size="7.6" text-anchor="middle" fill="#231f20" font-weight="normal" stroke="#231f20" stroke-width="0.2">20</text>
<text x="478.15" y="198.75" font-size="7.6" text-anchor="middle" fill="#231f20" font-weight="normal" stroke="#231f20" stroke-width="0.2">15</text>
<text x="509.7" y="198.75" font-size="7.6" text-anchor="middle" fill="#231f20" font-weight="normal" stroke="#231f20" stroke-width="0.2">9</text>
<text x="388.0" y="210.0" font-size="7.6" text-anchor="end" fill="#231f20" font-weight="normal" stroke="#231f20" stroke-width="0.2">PFS: 27</text>
<text x="415.05" y="210.0" font-size="7.6" text-anchor="middle" fill="#231f20" font-weight="normal" stroke="#231f20" stroke-width="0.2">18</text>
<text x="446.6" y="210.0" font-size="7.6" text-anchor="middle" fill="#231f20" font-weight="normal" stroke="#231f20" stroke-width="0.2">15</text>
<text x="478.15" y="210.0" font-size="7.6" text-anchor="middle" fill="#231f20" font-weight="normal" stroke="#231f20" stroke-width="0.2">13</text>
<text x="509.7" y="210.0" font-size="7.6" text-anchor="middle" fill="#231f20" font-weight="normal" stroke="#231f20" stroke-width="0.2">8</text>
<text x="388.0" y="221.25" font-size="7.6" text-anchor="end" fill="#231f20" font-weight="normal" stroke="#231f20" stroke-width="0.2">Relapse: 27</text>
<text x="415.05" y="221.25" font-size="7.6" text-anchor="middle" fill="#231f20" font-weight="normal" stroke="#231f20" stroke-width="0.2">18</text>
<text x="446.6" y="221.25" font-size="7.6" text-anchor="middle" fill="#231f20" font-weight="normal" stroke="#231f20" stroke-width="0.2">15</text>
<text x="478.15" y="221.25" font-size="7.6" text-anchor="middle" fill="#231f20" font-weight="normal" stroke="#231f20" stroke-width="0.2">13</text>
<text x="509.7" y="221.25" font-size="7.6" text-anchor="middle" fill="#231f20" font-weight="normal" stroke="#231f20" stroke-width="0.2">8</text>
<line x1="380.7" y1="364.60" x2="383.5" y2="364.60" stroke="#1a1a1a" stroke-width="0.8"/>
<text x="378.6" y="366.9" font-size="7.9" text-anchor="end" fill="#231f20" font-weight="normal" stroke="#231f20" stroke-width="0.2">0.0</text>
<line x1="380.7" y1="341.94" x2="383.5" y2="341.94" stroke="#1a1a1a" stroke-width="0.8"/>
<text x="378.6" y="344.24" font-size="7.9" text-anchor="end" fill="#231f20" font-weight="normal" stroke="#231f20" stroke-width="0.2">0.2</text>
<line x1="380.7" y1="319.28" x2="383.5" y2="319.28" stroke="#1a1a1a" stroke-width="0.8"/>
<text x="378.6" y="321.58" font-size="7.9" text-anchor="end" fill="#231f20" font-weight="normal" stroke="#231f20" stroke-width="0.2">0.4</text>
<line x1="380.7" y1="296.62" x2="383.5" y2="296.62" stroke="#1a1a1a" stroke-width="0.8"/>
<text x="378.6" y="298.92" font-size="7.9" text-anchor="end" fill="#231f20" font-weight="normal" stroke="#231f20" stroke-width="0.2">0.6</text>
<line x1="380.7" y1="273.96" x2="383.5" y2="273.96" stroke="#1a1a1a" stroke-width="0.8"/>
<text x="378.6" y="276.26" font-size="7.9" text-anchor="end" fill="#231f20" font-weight="normal" stroke="#231f20" stroke-width="0.2">0.8</text>
<line x1="380.7" y1="251.30" x2="383.5" y2="251.30" stroke="#1a1a1a" stroke-width="0.8"/>
<text x="378.6" y="253.6" font-size="7.9" text-anchor="end" fill="#231f20" font-weight="normal" stroke="#231f20" stroke-width="0.2">1.0</text>
<line x1="383.50" y1="364.6" x2="383.50" y2="367.20000000000005" stroke="#1a1a1a" stroke-width="0.8"/>
<text x="383.5" y="377.0" font-size="7.9" text-anchor="middle" fill="#231f20" font-weight="normal" stroke="#231f20" stroke-width="0.2">0</text>
<line x1="415.05" y1="364.6" x2="415.05" y2="367.20000000000005" stroke="#1a1a1a" stroke-width="0.8"/>
<text x="415.05" y="377.0" font-size="7.9" text-anchor="middle" fill="#231f20" font-weight="normal" stroke="#231f20" stroke-width="0.2">6</text>
<line x1="446.60" y1="364.6" x2="446.60" y2="367.20000000000005" stroke="#1a1a1a" stroke-width="0.8"/>
<text x="446.6" y="377.0" font-size="7.9" text-anchor="middle" fill="#231f20" font-weight="normal" stroke="#231f20" stroke-width="0.2">12</text>
<line x1="478.15" y1="364.6" x2="478.15" y2="367.20000000000005" stroke="#1a1a1a" stroke-width="0.8"/>
<text x="478.15" y="377.0" font-size="7.9" text-anchor="middle" fill="#231f20" font-weight="normal" stroke="#231f20" stroke-width="0.2">18</text>
<line x1="509.70" y1="364.6" x2="509.70" y2="367.20000000000005" stroke="#1a1a1a" stroke-width="0.8"/>
<text x="509.7" y="377.0" font-size="7.9" text-anchor="middle" fill="#231f20" font-weight="normal" stroke="#231f20" stroke-width="0.2">24</text>
<text x="403.8" y="243.6" font-size="8.6" text-anchor="start" fill="#231f20" font-weight="normal" textLength="88.1" lengthAdjust="spacingAndGlyphs" stroke="#231f20" stroke-width="0.2">Received Maintenance</text>
<text x="408.3" y="390.1" font-size="9.0" text-anchor="start" fill="#231f20" font-weight="normal" textLength="78.7" lengthAdjust="spacingAndGlyphs" stroke="#231f20" stroke-width="0.2">Months from transplantation</text>
<text transform="translate(361.5,322.00) rotate(-90)" font-size="8.5" fill="#231f20" stroke="#231f20" stroke-width="0.2" textLength="30.0" lengthAdjust="spacingAndGlyphs">Probability</text>
<path d="M383.5,251.30 H403.40 V256.45 H412.30 V261.60 H422.90 V266.75 H428.90 V271.90 H447.40 V277.05 H458.80 V282.20 H483.10 V288.40 H509.70" fill="none" stroke="#2a5788" stroke-width="1.05"/>
<path d="M383.5,364.60 H400.60 V359.45 H401.00 V349.15 H412.30 V338.85 H415.60 V327.90 H421.90 V322.50 H470.20 V317.30 H509.70" fill="none" stroke="#4aaa48" stroke-width="1.05"/>
<path d="M383.5,251.30 H400.80 V256.45 H401.80 V261.60 H402.70 V266.75 H412.30 V277.05 H414.20 V282.20 H416.20 V287.35 H421.90 V292.50 H470.20 V297.60 H509.70" fill="none" stroke="#ab163d" stroke-width="1.05"/>
<line x1="470.6" y1="280.80" x2="470.6" y2="283.60" stroke="#2a5788" stroke-width="0.6"/>
<line x1="476.4" y1="280.80" x2="476.4" y2="283.60" stroke="#2a5788" stroke-width="0.6"/>
<line x1="479.6" y1="280.80" x2="479.6" y2="283.60" stroke="#2a5788" stroke-width="0.6"/>
<line x1="487.5" y1="287.00" x2="487.5" y2="289.80" stroke="#2a5788" stroke-width="0.6"/>
<line x1="489.8" y1="287.00" x2="489.8" y2="289.80" stroke="#2a5788" stroke-width="0.6"/>
<line x1="501.8" y1="287.00" x2="501.8" y2="289.80" stroke="#2a5788" stroke-width="0.6"/>
<line x1="509.2" y1="287.00" x2="509.2" y2="289.80" stroke="#2a5788" stroke-width="0.6"/>
<line x1="479.6" y1="296.20" x2="479.6" y2="299.00" stroke="#ab163d" stroke-width="0.6"/>
<line x1="479.6" y1="315.90" x2="479.6" y2="318.70" stroke="#4aaa48" stroke-width="0.6"/>
<line x1="487.5" y1="296.20" x2="487.5" y2="299.00" stroke="#ab163d" stroke-width="0.6"/>
<line x1="487.5" y1="315.90" x2="487.5" y2="318.70" stroke="#4aaa48" stroke-width="0.6"/>
<line x1="489.8" y1="296.20" x2="489.8" y2="299.00" stroke="#ab163d" stroke-width="0.6"/>
<line x1="489.8" y1="315.90" x2="489.8" y2="318.70" stroke="#4aaa48" stroke-width="0.6"/>
<line x1="501.8" y1="296.20" x2="501.8" y2="299.00" stroke="#ab163d" stroke-width="0.6"/>
<line x1="501.8" y1="315.90" x2="501.8" y2="318.70" stroke="#4aaa48" stroke-width="0.6"/>
<line x1="509.2" y1="296.20" x2="509.2" y2="299.00" stroke="#ab163d" stroke-width="0.6"/>
<line x1="509.2" y1="315.90" x2="509.2" y2="318.70" stroke="#4aaa48" stroke-width="0.6"/>
<line x1="383.5" y1="249.0" x2="383.5" y2="365.1" stroke="#1a1a1a" stroke-width="1"/>
<line x1="383.0" y1="364.6" x2="511.0" y2="364.6" stroke="#1a1a1a" stroke-width="1"/>
<text x="450.2" y="272.0" font-size="8.6" text-anchor="start" fill="#231f20" font-weight="normal" textLength="10.9" lengthAdjust="spacingAndGlyphs" stroke="#231f20" stroke-width="0.2">OS</text>
<text x="437.9" y="290.6" font-size="8.6" text-anchor="start" fill="#231f20" font-weight="normal" textLength="14.1" lengthAdjust="spacingAndGlyphs" stroke="#231f20" stroke-width="0.2">PFS</text>
<text x="433.7" y="319.4" font-size="8.6" text-anchor="start" fill="#231f20" font-weight="normal" textLength="25.6" lengthAdjust="spacingAndGlyphs" stroke="#231f20" stroke-width="0.2">Relapse</text>
<text x="348.0" y="401.8" font-size="7.6" text-anchor="start" fill="#231f20" font-weight="normal" textLength="35.1" lengthAdjust="spacingAndGlyphs" stroke="#231f20" stroke-width="0.2">No. at Risk</text>
<text x="388.0" y="413.05" font-size="7.6" text-anchor="end" fill="#231f20" font-weight="normal" stroke="#231f20" stroke-width="0.2">OS: 22</text>
<text x="415.05" y="413.05" font-size="7.6" text-anchor="middle" fill="#231f20" font-weight="normal" stroke="#231f20" stroke-width="0.2">20</text>
<text x="446.6" y="413.05" font-size="7.6" text-anchor="middle" fill="#231f20" font-weight="normal" stroke="#231f20" stroke-width="0.2">18</text>
<text x="478.15" y="413.05" font-size="7.6" text-anchor="middle" fill="#231f20" font-weight="normal" stroke="#231f20" stroke-width="0.2">14</text>
<text x="509.7" y="413.05" font-size="7.6" text-anchor="middle" fill="#231f20" font-weight="normal" stroke="#231f20" stroke-width="0.2">9</text>
<text x="388.0" y="424.3" font-size="7.6" text-anchor="end" fill="#231f20" font-weight="normal" stroke="#231f20" stroke-width="0.2">PFS: 22</text>
<text x="415.05" y="424.3" font-size="7.6" text-anchor="middle" fill="#231f20" font-weight="normal" stroke="#231f20" stroke-width="0.2">17</text>
<text x="446.6" y="424.3" font-size="7.6" text-anchor="middle" fill="#231f20" font-weight="normal" stroke="#231f20" stroke-width="0.2">14</text>
<text x="478.15" y="424.3" font-size="7.6" text-anchor="middle" fill="#231f20" font-weight="normal" stroke="#231f20" stroke-width="0.2">12</text>
<text x="509.7" y="424.3" font-size="7.6" text-anchor="middle" fill="#231f20" font-weight="normal" stroke="#231f20" stroke-width="0.2">8</text>
<text x="388.0" y="435.55" font-size="7.6" text-anchor="end" fill="#231f20" font-weight="normal" stroke="#231f20" stroke-width="0.2">Relapse: 22</text>
<text x="415.05" y="435.55" font-size="7.6" text-anchor="middle" fill="#231f20" font-weight="normal" stroke="#231f20" stroke-width="0.2">17</text>
<text x="446.6" y="435.55" font-size="7.6" text-anchor="middle" fill="#231f20" font-weight="normal" stroke="#231f20" stroke-width="0.2">14</text>
<text x="478.15" y="435.55" font-size="7.6" text-anchor="middle" fill="#231f20" font-weight="normal" stroke="#231f20" stroke-width="0.2">12</text>
<text x="509.7" y="435.55" font-size="7.6" text-anchor="middle" fill="#231f20" font-weight="normal" stroke="#231f20" stroke-width="0.2">8</text>
<rect x="0.5" y="0.5" width="519" height="443" fill="none" stroke="#666" stroke-width="1"/>
</svg></div></body></html>
